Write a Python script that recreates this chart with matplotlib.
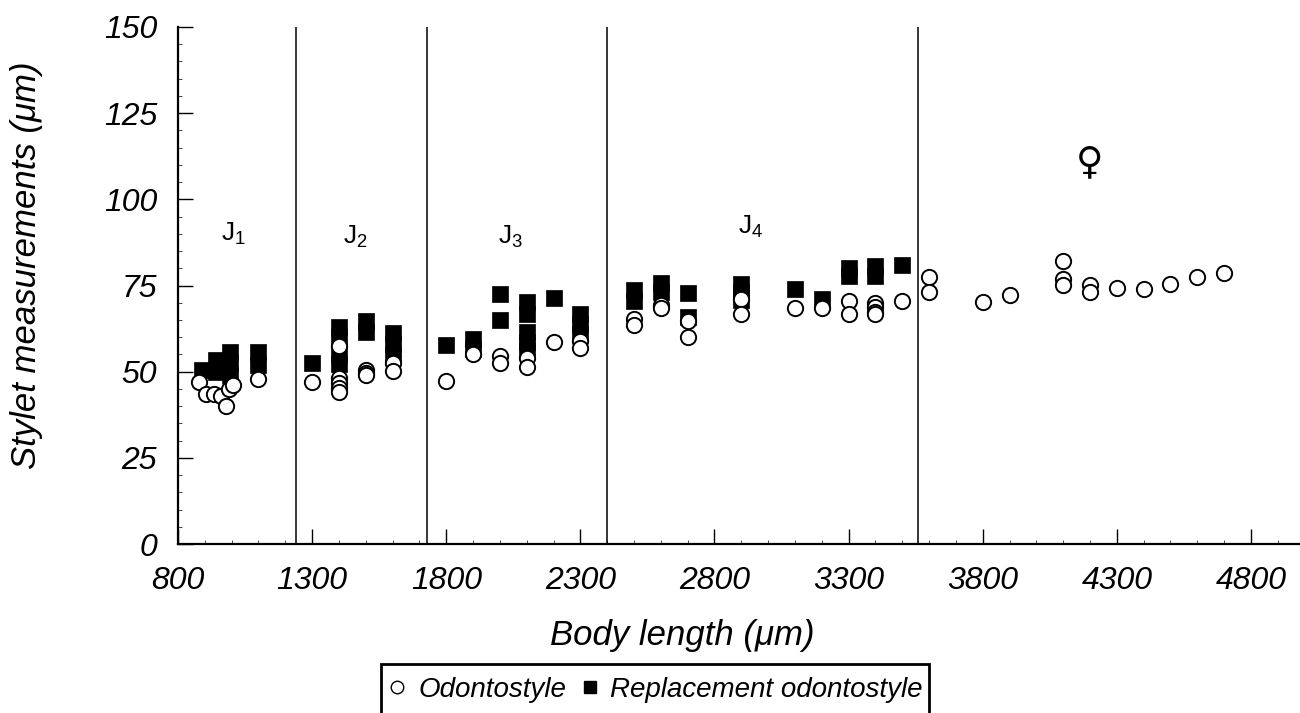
import matplotlib
matplotlib.use("Agg")
import matplotlib.pyplot as plt
from matplotlib.lines import Line2D
from matplotlib.patches import Rectangle
from matplotlib.ticker import MultipleLocator

plt.rcParams['font.family'] = ['Liberation Sans', 'DejaVu Sans']
plt.rcParams['mathtext.fontset'] = 'custom'
plt.rcParams['mathtext.rm'] = 'Liberation Sans'
plt.rcParams['mathtext.it'] = 'Liberation Sans:italic'

# Odontostyle (open circles)
odo_x = [880, 905, 935, 960, 990, 1005, 980, 1100,
         1300, 1400, 1400, 1400, 1400, 1400, 1500, 1500, 1500, 1600, 1600,
         1800, 1900, 2000, 2000, 2100, 2100, 2200, 2300, 2300,
         2500, 2500, 2600, 2600, 2700, 2700, 2900, 2900, 3100, 3200,
         3300, 3300, 3400, 3400, 3400, 3400, 3500,
         3600, 3600, 3800, 3900, 4100, 4100, 4100, 4200, 4200, 4300, 4400,
         4500, 4600, 4700]
odo_y = [47, 43.5, 43.5, 43, 45, 46, 40, 48,
         47.1, 57.5, 48.2, 46.7, 45.2, 44.2, 50.5, 49.6, 49, 52.5, 50.2,
         47.2, 55.1, 54.6, 52.5, 54, 51.3, 58.7, 59, 56.8,
         65.2, 63.5, 69.3, 68.4, 64.8, 60.1, 71, 66.7, 68.5, 68.5,
         70.6, 66.7, 69.8, 68.7, 67.4, 66.7, 70.4,
         77.6, 73, 70.3, 72.2, 82.1, 76.9, 75.1, 75.1, 73, 74.2, 74,
         75.3, 77.6, 78.7]

# Replacement odontostyle (filled squares)
rep_x = [890, 940, 940, 995, 995, 995, 1100, 1100,
         1300, 1400, 1400, 1400, 1400, 1500, 1500, 1600, 1600, 1600,
         1800, 1900, 1900, 2000, 2000, 2100, 2100, 2100, 2100, 2100, 2200,
         2300, 2300, 2300,
         2500, 2500, 2600, 2600, 2700, 2700, 2900, 2900, 2900, 3100, 3200,
         3300, 3300, 3400, 3400, 3500]
rep_y = [50.4, 53.4, 50, 55.7, 52.5, 49, 55.7, 52,
         52.4, 62.9, 60, 55, 52.3, 64.8, 61.5, 61.2, 58, 54.8,
         57.8, 59.6, 56.7, 72.4, 65.1, 70.2, 66.8, 61.5, 58.5, 56.2, 71.3,
         66.7, 63.8, 61,
         73.6, 70.4, 75.7, 73.1, 72.9, 65.9, 75.5, 73, 70.8, 73.9, 71.2,
         80.1, 77.7, 80.8, 77.7, 81]

stage_bounds = [1240, 1730, 2400, 3560]
stage_labels = ['1', '2', '3', '4']
stage_label_x = [1005, 1460, 2040, 2935]
stage_label_y = [90, 89, 89, 92]

x_ticks = [800, 1300, 1800, 2300, 2800, 3300, 3800, 4300, 4800]
y_ticks = [0, 25, 50, 75, 100, 125, 150]

W, H = 1300, 713
fig = plt.figure(figsize=(W / 100, H / 100), dpi=100)
ax = fig.add_axes([178 / W, (H - 544) / H, (W - 178) / W, (544 - 27) / H])

ax.plot(rep_x, rep_y, linestyle='none', marker='s', markersize=11.3,
        markerfacecolor='black', markeredgecolor='black', markeredgewidth=0.5, zorder=3)
ax.plot(odo_x, odo_y, linestyle='none', marker='o', markersize=11,
        markerfacecolor='white', markeredgecolor='black', markeredgewidth=1.4, zorder=4)

for b in stage_bounds:
    ax.axvline(b, color='black', linewidth=1.1, zorder=2)

for lab, lx, ly in zip(stage_labels, stage_label_x, stage_label_y):
    ax.text(lx, ly, r'$\mathrm{J}_{' + lab + '}$', fontsize=19, ha='center', va='center')

ax.text(4200, 110.5, '\u2640', fontsize=27, ha='center', va='center',
        family=['DejaVu Sans'], fontweight='normal')

ax.set_xlim(800, 4983)
ax.set_ylim(0, 150)
ax.set_xticks(x_ticks)
ax.set_yticks(y_ticks)
ax.xaxis.set_minor_locator(MultipleLocator(100))
ax.yaxis.set_minor_locator(MultipleLocator(5))
ax.set_xticklabels([str(t) for t in x_ticks], fontstyle='italic', fontsize=23)
ax.set_yticklabels([str(t) for t in y_ticks], fontstyle='italic', fontsize=23)
ax.tick_params(axis='both', which='major', direction='in', length=11, width=1.0)
ax.tick_params(axis='both', which='minor', direction='in', length=3, width=0.5)
ax.tick_params(axis='x', which='major', pad=16)
ax.tick_params(axis='y', which='major', pad=15)

for s in ['top', 'right']:
    ax.spines[s].set_visible(False)
for s in ['left', 'bottom']:
    ax.spines[s].set_linewidth(1.6)

fig.text(682 / W, 1 - 635 / H, 'Body length (\u03bcm)', fontsize=25, fontstyle='italic',
         ha='center', va='center')
fig.text(27 / W, 1 - 265 / H, 'Stylet measurements (\u03bcm)', fontsize=25, fontstyle='italic',
         ha='center', va='center', rotation=90)

# legend: entries without frame, box drawn separately
handles = [
    Line2D([], [], linestyle='none', marker='o', markersize=9, markerfacecolor='white',
           markeredgecolor='black', markeredgewidth=1.0),
    Line2D([], [], linestyle='none', marker='s', markersize=8, markerfacecolor='black',
           markeredgecolor='black'),
]
leg = fig.legend(handles, ['Odontostyle', 'Replacement odontostyle'], ncol=2,
                 loc='center', bbox_to_anchor=(656 / W, 1 - 690 / H),
                 prop={'size': 20, 'style': 'italic', 'family': 'Liberation Sans'},
                 frameon=False, handlelength=0.6, handletextpad=0.45, columnspacing=0.55,
                 borderpad=0, borderaxespad=0)
box = Rectangle((381 / W, -0.02), (929 - 381) / W, (0.02 + (713 - 664) / H),
                transform=fig.transFigure, fill=False, edgecolor='black', linewidth=2.0)
fig.patches.append(box)

fig.savefig('out.png', dpi=100)
